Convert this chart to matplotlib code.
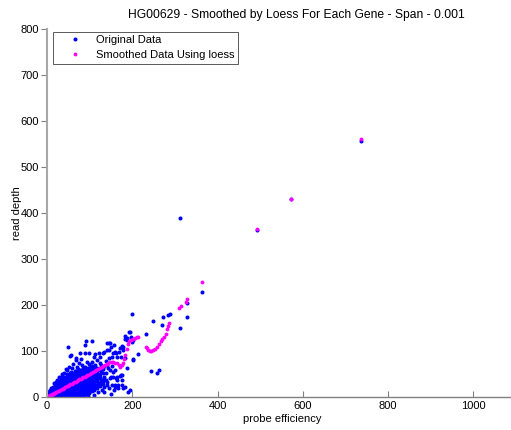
import matplotlib.pyplot as plt
import numpy as np

plt.rcParams['font.family'] = ['Liberation Sans', 'DejaVu Sans']
plt.rcParams['font.size'] = 8

# original read depth vs probe efficiency, dense core near the origin
core_pts = [
    (1, 1), (2, 4), (3, 8), (2, 11), (1, 6), (4, 2),
    (6, 1), (7, 5), (8, 9), (6, 13), (7, 16), (9, 3),
    (11, 2), (12, 7), (13, 11), (12, 15), (11, 19), (14, 22), (13, 4),
    (16, 1), (17, 6), (18, 10), (16, 14), (18, 18), (17, 22), (19, 25),
    (22, 3), (23, 8), (24, 12), (22, 16), (23, 20), (25, 24), (24, 28), (22, 31),
    (27, 1), (28, 6), (29, 10), (27, 14), (29, 19), (28, 23), (30, 27), (28, 31), (29, 35),
    (33, 3), (34, 8), (35, 12), (33, 16), (34, 21), (36, 25), (34, 29), (35, 33), (33, 37), (36, 40),
    (39, 1), (40, 5), (41, 10), (39, 14), (40, 18), (42, 23), (40, 27), (41, 31), (39, 35), (42, 39), (40, 43),
    (45, 3), (46, 8), (47, 12), (45, 16), (46, 21), (48, 25), (46, 29), (47, 33), (45, 37), (48, 41), (46, 45), (47, 49),
    (51, 1), (52, 6), (53, 10), (51, 15), (52, 19), (54, 23), (52, 27), (53, 32), (51, 36), (54, 40), (52, 44), (53, 48), (55, 52),
    (57, 2), (58, 7), (59, 11), (57, 16), (58, 20), (60, 24), (58, 28), (59, 33), (57, 37), (60, 41), (58, 45), (59, 50), (57, 54),
    (63, 1), (64, 5), (65, 10), (63, 14), (64, 19), (66, 23), (64, 27), (65, 31), (63, 36), (66, 40), (64, 44), (65, 48), (63, 53), (66, 57),
    (69, 4), (70, 8), (71, 13), (69, 17), (70, 21), (72, 26), (70, 30), (71, 34), (69, 39), (72, 43), (70, 47), (71, 52), (69, 56), (72, 60),
    (75, 2), (76, 7), (77, 11), (75, 16), (76, 20), (78, 24), (76, 29), (77, 33), (75, 37), (78, 42), (76, 46), (77, 50), (75, 55), (78, 59),
    (81, 5), (82, 10), (83, 14), (81, 18), (82, 23), (84, 27), (82, 31), (83, 36), (81, 40), (84, 44), (82, 49), (83, 53), (81, 58), (84, 62),
    (87, 3), (88, 8), (89, 13), (87, 17), (88, 21), (90, 26), (88, 30), (89, 34), (87, 39), (90, 43), (88, 47), (89, 52), (87, 56), (90, 61), (88, 66),
    (93, 6), (94, 11), (95, 15), (93, 20), (94, 24), (96, 28), (94, 33), (95, 37), (93, 41), (96, 46), (94, 50), (95, 55), (93, 59), (96, 64),
    (99, 9), (100, 13), (101, 18), (99, 22), (100, 27), (102, 31), (100, 35), (101, 40), (99, 44), (102, 49), (100, 53), (101, 58), (99, 63), (102, 67),
    (105, 12), (106, 17), (107, 21), (105, 26), (106, 30), (108, 35), (106, 39), (107, 44), (105, 48), (108, 53), (106, 57), (107, 62), (105, 68),
    (111, 16), (112, 21), (113, 25), (111, 30), (112, 35), (114, 39), (112, 44), (113, 48), (111, 53), (114, 58), (112, 63), (113, 70),
    (117, 20), (118, 26), (119, 31), (117, 36), (118, 42), (120, 47), (118, 52), (119, 58), (117, 64),
    (124, 24), (125, 30), (126, 37), (124, 43), (125, 50), (127, 56), (125, 62), (126, 70),
    (131, 28), (132, 36), (133, 44), (131, 52), (132, 60), (134, 68),
]

# looser scatter around the core
scatter_pts = [
    (49, 109), (91, 122), (105, 122), (56, 91), (68, 85), (77, 96), (89, 96), (99, 96), (113, 93),
    (124, 87), (131, 96), (141, 102), (148, 117), (155, 96), (159, 98), (164, 87), (146, 117),
    (176, 109), (183, 133), (192, 141), (188, 124), (178, 102), (202, 83),
    (124, 74), (131, 65), (141, 70), (148, 59), (155, 54), (164, 43), (171, 46), (148, 41), (138, 37),
    (159, 26), (166, 20), (178, 20), (190, 11), (101, 22), (112, 20), (124, 30), (120, 41), (131, 35),
    (89, 113), (54, 89), (68, 80), (80, 83), (75, 74), (23, 37), (16, 30), (33, 43), (9, 20), (5, 11),
    (40, 52), (47, 59), (59, 63), (70, 65), (82, 70), (94, 76), (110, 87), (122, 96), (134, 98), (145, 102),
    (141, 117), (150, 109), (157, 113), (162, 96), (169, 98), (173, 87),
    (134, 22), (145, 20), (157, 15), (164, 22), (176, 26), (122, 30), (129, 37), (141, 33),
    (150, 43), (162, 41), (173, 48), (134, 11), (150, 7), (138, 52), (144, 62), (152, 68), (160, 58),
    (138, 78), (145, 84), (152, 88), (118, 80), (106, 76), (98, 72), (28, 44), (20, 33), (36, 50),
    (62, 72), (52, 66), (44, 60), (85, 6), (95, 2), (110, 5), (120, 10), (128, 15), (140, 27),
]

# sparse points far from the core
outlier_pts = [
    (313, 389), (364, 228), (328, 204), (328, 174), (312, 150), (288, 180), (284, 178), (272, 174),
    (248, 166), (270, 157), (232, 137), (213, 93), (244, 57), (258, 52), (263, 59), (199, 180),
    (195, 141), (197, 130), (202, 124), (199, 120), (188, 128), (183, 126), (178, 109), (176, 111),
    (171, 107), (202, 81), (183, 85), (188, 63), (176, 48), (176, 37), (183, 22), (195, 15),
    (152, 26), (159, 22), (166, 26), (155, 43), (164, 37),
    (492, 364), (571, 430), (737, 557),
]

# loess smoothed values
smooth_pts = [
    (1, 0.5), (3, 1.6), (5, 2.4), (7, 3.6), (9, 4.4), (11, 5.6), (13, 6.5), (15, 7.4), (17, 8.6),
    (19, 9.5), (22, 11.2), (25, 12.4), (28, 14.1), (31, 15.4), (34, 17.2), (37, 18.4), (40, 20.1),
    (43, 21.3), (46, 23.2), (49, 24.4), (52, 26.1), (55, 27.6), (58, 28.8), (61, 30.7), (64, 31.8),
    (67, 33.6), (70, 35.2), (73, 36.3), (76, 38.1), (79, 39.6), (82, 40.8), (85, 42.6), (88, 44.2),
    (91, 45.3), (94, 47.1), (97, 48.6), (100, 50.2), (104, 52.1), (108, 53.8), (112, 56.2),
    (116, 58), (120, 61), (124, 63), (128, 65), (132, 67), (136, 69), (140, 71), (144, 74),
    (148, 76), (152, 77), (155, 76), (160, 74), (164, 73), (168, 70), (171, 66), (175, 69),
    (178, 73), (181, 83), (184, 92), (187, 104), (190, 116), (193, 121), (197, 124), (201, 127),
    (206, 128), (211, 130), (213, 130),
    (232, 109), (234, 106), (237, 103), (241, 101), (245, 101), (248, 102), (253, 105), (258, 109),
    (263, 115), (267, 122), (270, 126), (275, 130), (278, 138), (282, 147), (284, 154), (286, 161),
    (310, 193), (314, 198), (325, 206), (328, 213), (364, 250), (492, 366), (571, 431), (737, 560),
]

orig = np.array(core_pts + scatter_pts + outlier_pts, dtype=float)
smooth = np.array(smooth_pts, dtype=float)

fig = plt.figure(figsize=(5.11, 4.30), dpi=100)
ax = fig.add_axes([0.092, 0.0767, 0.908, 0.856])

ax.plot(orig[:, 0], orig[:, 1], '.', color='#0000ff', ms=3.8, label='Original Data')
ax.plot(smooth[:, 0], smooth[:, 1], '.', color='#ff00ff', ms=3.5, label='Smoothed Data Using loess')

ax.set_xlim(0, 1088)
ax.set_ylim(0, 800)
ax.set_xticks(np.arange(0, 1001, 200))
ax.set_yticks(np.arange(0, 801, 100))

for side in ['top', 'right']:
    ax.spines[side].set_visible(False)
ax.spines['left'].set_color('#a8a8a8')
ax.spines['left'].set_linewidth(1.5)
ax.spines['bottom'].set_color('#808080')
ax.spines['bottom'].set_linewidth(1.0)

ax.tick_params(axis='x', direction='in', length=4, color='#808080', pad=3)
ax.tick_params(axis='y', direction='out', length=4, color='#808080', pad=2)

ax.set_title('HG00629 - Smoothed by Loess For Each Gene - Span - 0.001', fontsize=8.7, pad=8, x=0.537)
ax.set_xlabel('probe efficiency', labelpad=2, x=0.506)
ax.set_ylabel('read depth', labelpad=-1)

leg = ax.legend(loc='upper left', bbox_to_anchor=(0.012, 0.992), borderaxespad=0,
                fancybox=False, edgecolor='#404040', framealpha=1, borderpad=0.3,
                labelspacing=0.45, handlelength=3.5, handletextpad=0.1)
leg.get_frame().set_linewidth(0.6)

fig.savefig('out.png', dpi=100)
